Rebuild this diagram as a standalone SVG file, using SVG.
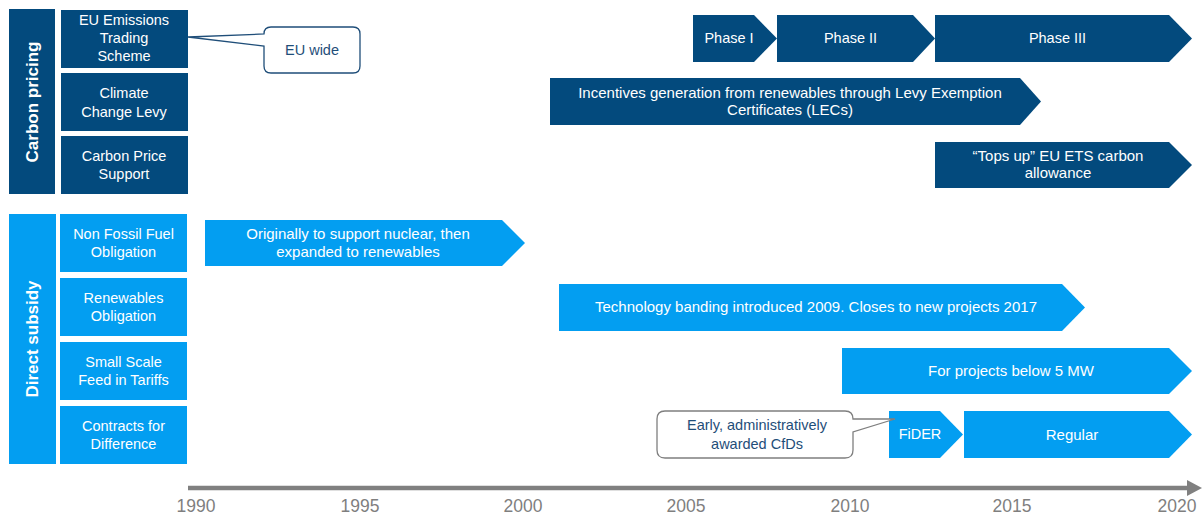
<svg xmlns="http://www.w3.org/2000/svg" width="1202" height="516" viewBox="0 0 1202 516">
<style>
.dark{fill:#034A7D}
.light{fill:#039EF1}
.t{font-family:"Liberation Sans",Arial,sans-serif;font-size:14.5px;fill:#FFFFFF;text-anchor:middle}
.b{font-size:15px}
.hdr{font-family:"Liberation Sans",Arial,sans-serif;font-size:17px;font-weight:bold;fill:#FFFFFF;text-anchor:middle;dominant-baseline:central}
.ct{font-family:"Liberation Sans",Arial,sans-serif;font-size:14.5px;fill:#1F4E79;text-anchor:middle}
.yr{font-family:"Liberation Sans",Arial,sans-serif;font-size:17.5px;fill:#7F7F7F;text-anchor:middle}
.callout{fill:#FFFFFF;stroke-width:1.3}
</style>
<rect width="1202" height="516" fill="#FFFFFF"/>

<g id="carbon-pricing">
<rect class="dark" x="9" y="9" width="46" height="185"/>
<text class="hdr" transform="translate(32,102) rotate(-90)">Carbon pricing</text>
</g>
<g id="eu-ets">
<rect class="dark" x="61" y="10" width="127" height="58"/>
<text class="t" x="124" y="25">EU Emissions</text>
<text class="t" x="124" y="43">Trading</text>
<text class="t" x="124" y="61">Scheme</text>
</g>
<g id="ccl">
<rect class="dark" x="61" y="73" width="127" height="58"/>
<text class="t" x="124" y="98">Climate</text>
<text class="t" x="124" y="117">Change Levy</text>
</g>
<g id="cps">
<rect class="dark" x="61" y="136" width="127" height="58"/>
<text class="t" x="124" y="161">Carbon Price</text>
<text class="t" x="124" y="179">Support</text>
</g>

<g id="direct-subsidy">
<rect class="light" x="9" y="214" width="47" height="250"/>
<text class="hdr" transform="translate(32,339) rotate(-90)">Direct subsidy</text>
</g>
<g id="nffo">
<rect class="light" x="60" y="214" width="127" height="58"/>
<text class="t" x="123.5" y="239">Non Fossil Fuel</text>
<text class="t" x="123.5" y="257">Obligation</text>
</g>
<g id="ro">
<rect class="light" x="60" y="278" width="127" height="58"/>
<text class="t" x="123.5" y="303">Renewables</text>
<text class="t" x="123.5" y="321">Obligation</text>
</g>
<g id="ssfit">
<rect class="light" x="60" y="342" width="127" height="58"/>
<text class="t" x="123.5" y="367">Small Scale</text>
<text class="t" x="123.5" y="385">Feed in Tariffs</text>
</g>
<g id="cfd">
<rect class="light" x="60" y="406" width="127" height="58"/>
<text class="t" x="123.5" y="431">Contracts for</text>
<text class="t" x="123.5" y="449">Difference</text>
</g>

<g id="phase1">
<polygon class="dark" points="693,15 754,15 777,38.5 754,62 693,62"/>
<text class="t" x="729" y="43">Phase I</text>
</g>
<g id="phase2">
<polygon class="dark" points="777,15 913,15 935,38.5 913,62 777,62"/>
<text class="t" x="850.5" y="43">Phase II</text>
</g>
<g id="phase3">
<polygon class="dark" points="935,15 1169,15 1192,38.5 1169,62 935,62"/>
<text class="t" x="1057.5" y="43">Phase III</text>
</g>
<g id="lec">
<polygon class="dark" points="550,78 1020,78 1041,101.5 1020,125 550,125"/>
<text class="t b" x="790" y="98">Incentives generation from renewables through Levy Exemption</text>
<text class="t b" x="790" y="115">Certificates (LECs)</text>
</g>
<g id="topsup">
<polygon class="dark" points="935,142 1169,142 1192,165 1169,188 935,188"/>
<text class="t b" x="1058" y="161">“Tops up” EU ETS carbon</text>
<text class="t b" x="1058" y="178">allowance</text>
</g>

<g id="nffo-bar">
<polygon class="light" points="205,220 502,220 525,243 502,266 205,266"/>
<text class="t b" x="358" y="239">Originally to support nuclear, then</text>
<text class="t b" x="358" y="257">expanded to renewables</text>
</g>
<g id="ro-bar">
<polygon class="light" points="559,284 1062,284 1085,307.5 1062,331 559,331"/>
<text class="t b" x="816" y="312">Technology banding introduced 2009. Closes to new projects 2017</text>
</g>
<g id="ssfit-bar">
<polygon class="light" points="842,348 1169,348 1192,371 1169,394 842,394"/>
<text class="t b" x="1011" y="376">For projects below 5 MW</text>
</g>
<g id="fider">
<polygon class="light" points="889,411 940,411 963,434.5 940,458 889,458"/>
<text class="t" x="920" y="439">FiDER</text>
</g>
<g id="regular">
<polygon class="light" points="964,411 1169,411 1192,434.5 1169,458 964,458"/>
<text class="t b" x="1072" y="440">Regular</text>
</g>

<g id="connectors">
<g id="callout-eu">
<path class="callout" stroke="#1F4E79" d="M264,34 Q264,27 271,27 H353 Q360,27 360,34 V66 Q360,73 353,73 H271 Q264,73 264,66 V46 L188,37 Z"/>
<text class="ct" x="312" y="55">EU wide</text>
</g>
<g id="callout-cfd">
<path class="callout" stroke="#7F7F7F" d="M665,411 H845 Q853,411 853,419 L895,419 L853,432 V450 Q853,458 845,458 H665 Q657,458 657,450 V419 Q657,411 665,411 Z"/>
<text class="ct" x="757" y="430">Early, administratively</text>
<text class="ct" x="757" y="449">awarded CfDs</text>
</g>
</g>

<g id="axis">
<line x1="188" y1="488" x2="1190" y2="488" stroke="#808080" stroke-width="4.5"/>
<polygon points="1187,480 1202,488 1187,496" fill="#808080"/>
<text class="yr" x="196" y="512">1990</text>
<text class="yr" x="360" y="512">1995</text>
<text class="yr" x="523" y="512">2000</text>
<text class="yr" x="686" y="512">2005</text>
<text class="yr" x="850" y="512">2010</text>
<text class="yr" x="1012" y="512">2015</text>
<text class="yr" x="1177" y="512">2020</text>
</g>
</svg>
